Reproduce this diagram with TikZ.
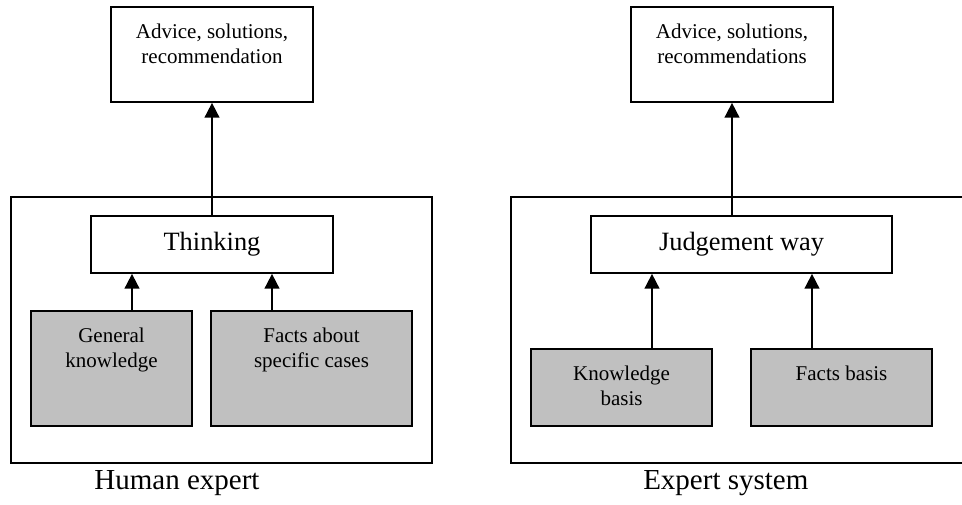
\documentclass[tikz,border=0pt]{standalone}
\usepackage{fontspec}
\setmainfont{Liberation Serif}
\usetikzlibrary{arrows.meta,fit}
\definecolor{boxgray}{RGB}{192,192,192}
\begin{document}
\begin{tikzpicture}[x=0.75pt,y=-0.75pt,
  box/.style={draw, line width=1.3pt, inner sep=0pt, fill=white},
  greybox/.style={box, fill=boxgray},
  outerbox/.style={draw, line width=1.3pt, inner sep=0pt},
  smalltxt/.style={font=\fontsize{15.75}{18.3}\selectfont, align=center, inner sep=0pt, anchor=north},
  midtxt/.style={font=\fontsize{19.8}{23}\selectfont, inner sep=0pt},
  captxt/.style={font=\fontsize{21.75}{26}\selectfont, inner sep=0pt, anchor=base},
  arr/.style={-{Triangle[width=11pt,length=11pt]}, line width=1.3pt}]
\useasboundingbox (0,0) rectangle (962,504);
\clip (0,0) rectangle (962,504);

% ---- Left: Human expert ----
\node[outerbox, fit={(11,197) (432,463)}] (outL) {};
\node[box, fit={(111,7) (313,102)}] (adv1) {};
\node[smalltxt] (adv1t) at (212,24) {Advice, solutions,\\recommendation};
\node[box, fit={(91,216) (333,273)}] (think) {};
\node[midtxt] (thinkt) at (212,244.5) {Thinking};
\node[greybox, fit={(31,311) (192,426)}] (gk) {};
\node[smalltxt] (gkt) at (111.5,328) {General\\knowledge};
\node[greybox, fit={(211,311) (412,426)}] (fa) {};
\node[smalltxt] (fat) at (311.5,328) {Facts about\\specific cases};
\node[captxt] (capL) at (177,489) {Human expert};

\coordinate (c1) at (132,0);
\coordinate (c2) at (272,0);
\draw[arr] (think.north -| adv1.south) -- (adv1.south);
\draw[arr] (gk.north -| c1) -- (think.south -| c1);
\draw[arr] (fa.north -| c2) -- (think.south -| c2);

% ---- Right: Expert system ----
\node[outerbox, fit={(511,197) (980,463)}] (outR) {};
\node[box, fit={(631,7) (833,102)}] (adv2) {};
\node[smalltxt] (adv2t) at (732,24) {Advice, solutions,\\recommendations};
\node[box, fit={(591,216) (892,273)}] (judge) {};
\node[midtxt] (judget) at (741.5,244.5) {Judgement way};
\node[greybox, fit={(531,349) (712,426)}] (kb) {};
\node[smalltxt] (kbt) at (621.5,366) {Knowledge\\basis};
\node[greybox, fit={(751,349) (932,426)}] (fb) {};
\node[smalltxt] (fbt) at (841.5,366) {Facts basis};
\node[captxt] (capR) at (725.8,489) {Expert system};

\coordinate (c3) at (652,0);
\coordinate (c4) at (812,0);
\draw[arr] (judge.north -| adv2.south) -- (adv2.south);
\draw[arr] (kb.north -| c3) -- (judge.south -| c3);
\draw[arr] (fb.north -| c4) -- (judge.south -| c4);
\end{tikzpicture}
\end{document}
